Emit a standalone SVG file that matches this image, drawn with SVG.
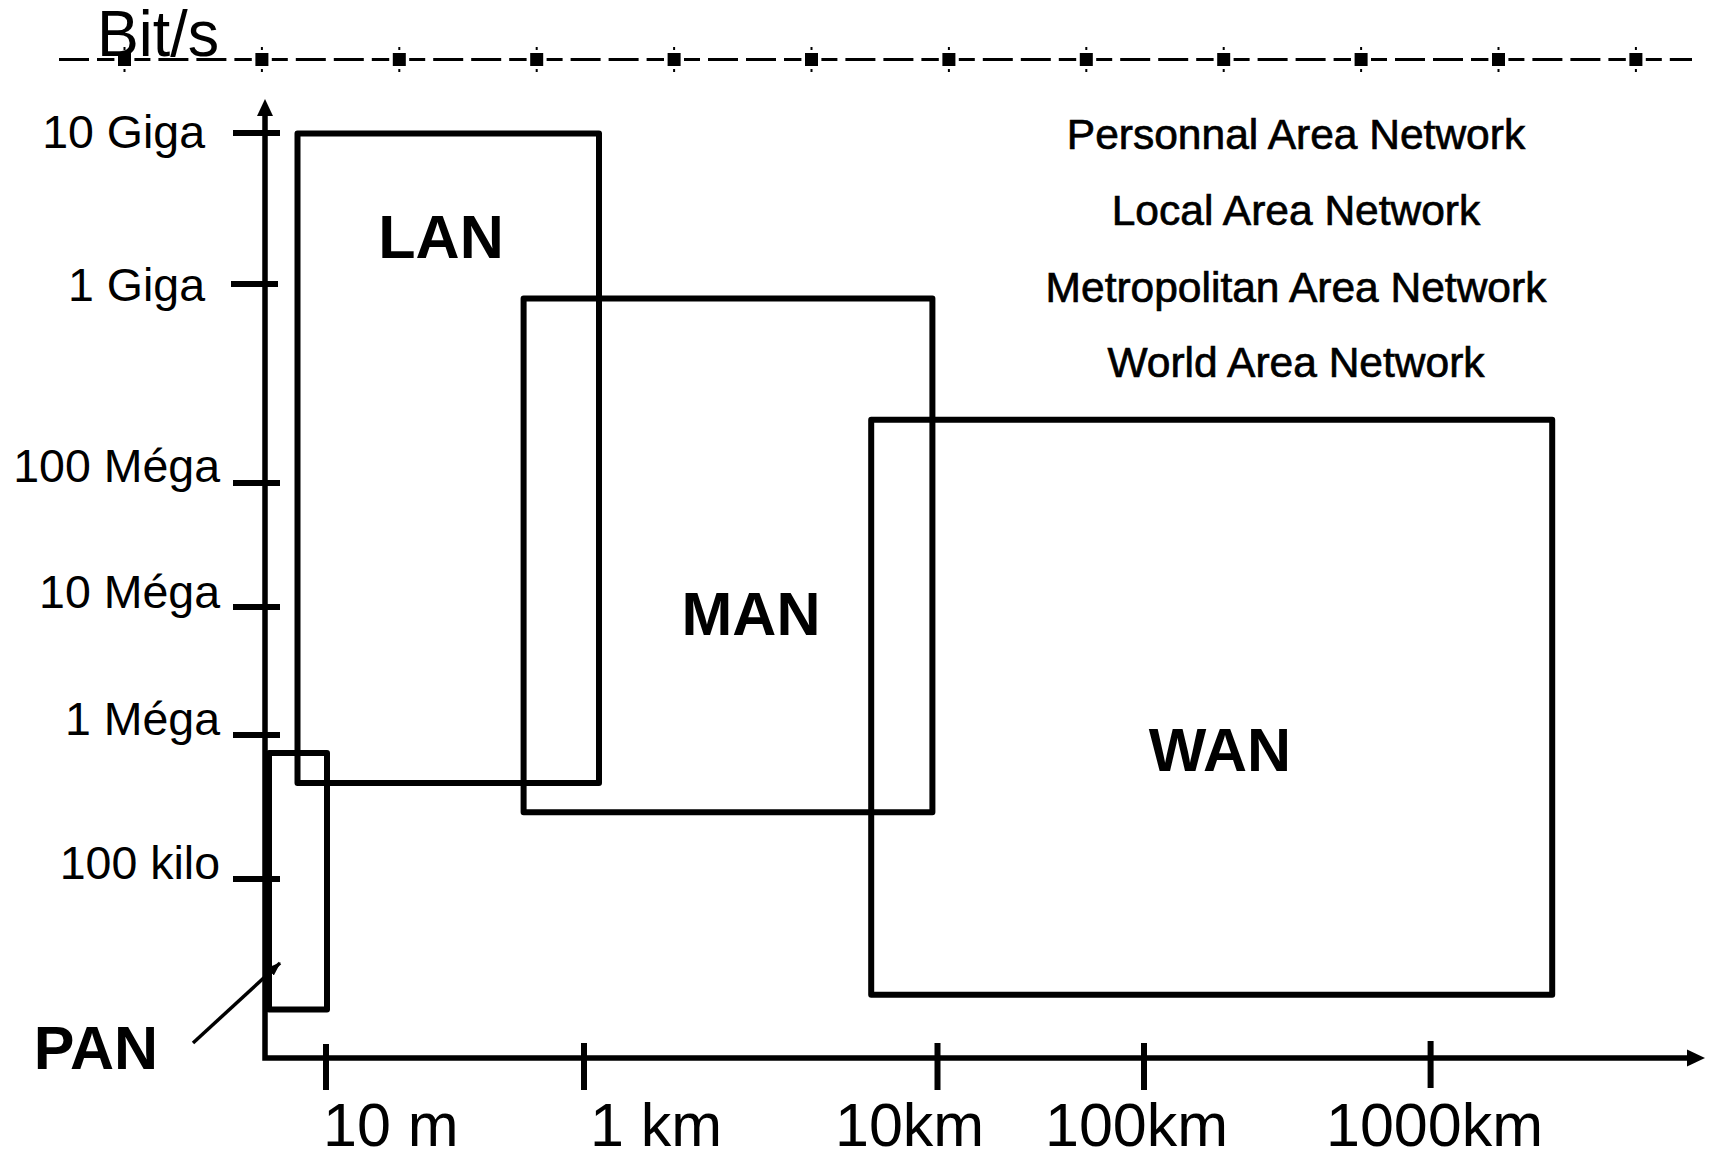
<svg xmlns="http://www.w3.org/2000/svg" xmlns:xlink="http://www.w3.org/1999/xlink" width="1714" height="1157" viewBox="0 0 1714 1157">
<style>
text{font-family:"Liberation Sans",Arial,sans-serif;fill:#000}
.ax{font-size:46.5px}
.xl{font-size:61px}
.big{font-size:61px;font-weight:bold;text-anchor:middle}
.leg{font-size:42.5px;text-anchor:middle;stroke:#000;stroke-width:0.7px}
.box{fill:none;stroke:#000;stroke-width:6;stroke-linejoin:round}
.axis{fill:none;stroke:#000;stroke-width:5.5}
.tick{stroke:#000;stroke-width:6}
</style>
<defs>
<g id="mk"><rect x="-6.5" y="-6.5" width="13" height="13" fill="#000"/><rect x="-1" y="-12.5" width="2" height="3" fill="#000"/><rect x="-1" y="9.5" width="2" height="3" fill="#000"/></g>
<marker id="ah" viewBox="0 0 14 10" refX="13" refY="5" markerWidth="14" markerHeight="10" markerUnits="userSpaceOnUse" orient="auto"><path d="M0,0 L14,5 L0,10 z" fill="#000"/></marker>
</defs>
<rect width="1714" height="1157" fill="#fff"/>
<g id="scale-line">
<path d="M59,59.5 H1692" stroke="#000" stroke-width="3" fill="none" stroke-dasharray="16 8 30 8 30 8 17.4 20" stroke-dashoffset="62"/>
<use xlink:href="#mk" x="124.5" y="59.5"/>
<use xlink:href="#mk" x="261.9" y="59.5"/>
<use xlink:href="#mk" x="399.3" y="59.5"/>
<use xlink:href="#mk" x="536.7" y="59.5"/>
<use xlink:href="#mk" x="674.1" y="59.5"/>
<use xlink:href="#mk" x="811.5" y="59.5"/>
<use xlink:href="#mk" x="948.9" y="59.5"/>
<use xlink:href="#mk" x="1086.3" y="59.5"/>
<use xlink:href="#mk" x="1223.7" y="59.5"/>
<use xlink:href="#mk" x="1361.1" y="59.5"/>
<use xlink:href="#mk" x="1498.5" y="59.5"/>
<use xlink:href="#mk" x="1635.9" y="59.5"/>
</g>
<text x="97" y="56" style="font-size:64px" textLength="122" lengthAdjust="spacingAndGlyphs">Bit/s</text>
<g id="axes">
<path class="axis" d="M265,113 V1058 H1690"/>
<polygon points="265,99 257,116 273,116" fill="#000"/>
<polygon points="1705,1058 1687,1049.5 1687,1066.5" fill="#000"/>
<path class="tick" d="M233,133 H280 M231,284 H278 M233,483 H280 M233,607 H280 M233,735 H280 M233,879 H280"/>
<path class="tick" d="M326,1044 V1090 M584,1043 V1090 M937.5,1043 V1090 M1144,1043 V1090 M1430.6,1041 V1088"/>
<g class="ax" text-anchor="end">
<text x="205" y="148">10 Giga</text>
<text x="205" y="301">1 Giga</text>
<text x="220" y="482">100 Méga</text>
<text x="220" y="608">10 Méga</text>
<text x="220" y="735">1 Méga</text>
<text x="220" y="879">100 kilo</text>
</g>
<g class="xl">
<text x="323" y="1146">10 m</text>
<text x="590" y="1146">1 km</text>
<text x="835" y="1146">10km</text>
<text x="1045" y="1146">100km</text>
<text x="1326" y="1146">1000km</text>
</g>
</g>
<g id="LAN">
<rect class="box" x="297.5" y="133.5" width="301.5" height="649.5"/>
<text class="big" x="441" y="258">LAN</text>
</g>
<g id="MAN">
<rect class="box" x="523.6" y="298.4" width="408.8" height="513.8"/>
<text class="big" x="751" y="635">MAN</text>
</g>
<g id="WAN">
<rect class="box" x="871.2" y="419.7" width="681" height="575"/>
<text class="big" x="1220" y="771">WAN</text>
</g>
<g id="PAN">
<rect class="box" x="269" y="753" width="58" height="256.5"/>
<text class="big" x="96" y="1069">PAN</text>
</g>
<g id="legend" class="leg">
<text x="1296" y="149">Personnal Area Network</text>
<text x="1296" y="225">Local Area Network</text>
<text x="1296" y="302">Metropolitan Area Network</text>
<text x="1296" y="377">World Area Network</text>
</g>
<g id="connectors">
<line x1="193" y1="1043" x2="280" y2="963" stroke="#000" stroke-width="3.5" marker-end="url(#ah)"/>
</g>
</svg>
